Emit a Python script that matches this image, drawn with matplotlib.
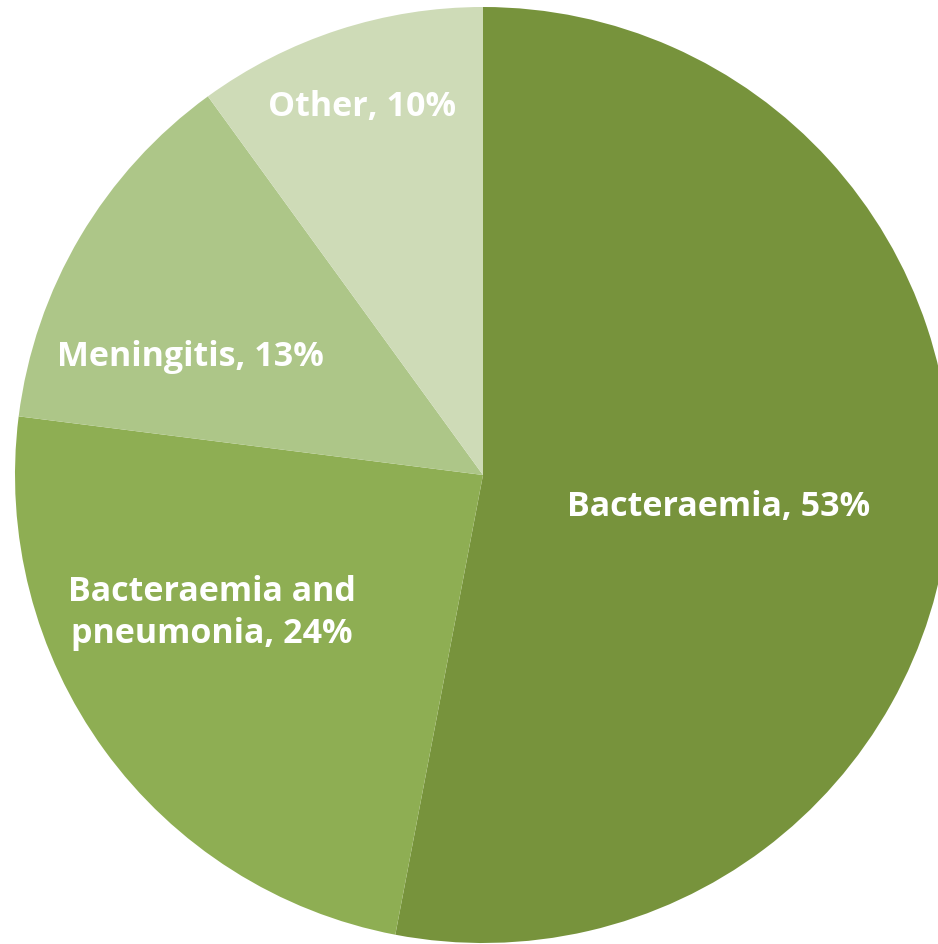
import matplotlib.pyplot as plt

# infection type split
labels = ["Bacteraemia", "Bacteraemia and\npneumonia", "Meningitis", "Other"]
shares = [53, 24, 13, 10]
colors = ["#77933C", "#8EAE53", "#ADC688", "#CEDBB7"]

# label centres, in units of the pie radius
label_pos = [(0.504, -0.066), (-0.579, -0.293), (-0.626, 0.254), (-0.259, 0.788)]

fig = plt.figure(figsize=(9.38, 9.45), dpi=100)
ax = fig.add_axes([0, 0, 1, 1])

wedges, _ = ax.pie(shares, colors=colors, startangle=90, counterclock=False,
                   radius=1.0, wedgeprops={"linewidth": 0})

for lab, val, (x, y) in zip(labels, shares, label_pos):
    ax.text(x, y, "%s, %d%%" % (lab, val), ha="center", va="center",
            color="white", fontsize=24.5, fontweight="bold", family="Open Sans",
            linespacing=1.3)

# pie centre sits at (483, 476) px with a 468 px radius, cut at the right edge
r = 468.0
ax.set_xlim(-483 / r, (938 - 483) / r)
ax.set_ylim((476 - 945) / r, 476 / r)
ax.set_aspect("auto")
ax.axis("off")

plt.savefig("out.png", dpi=100)
